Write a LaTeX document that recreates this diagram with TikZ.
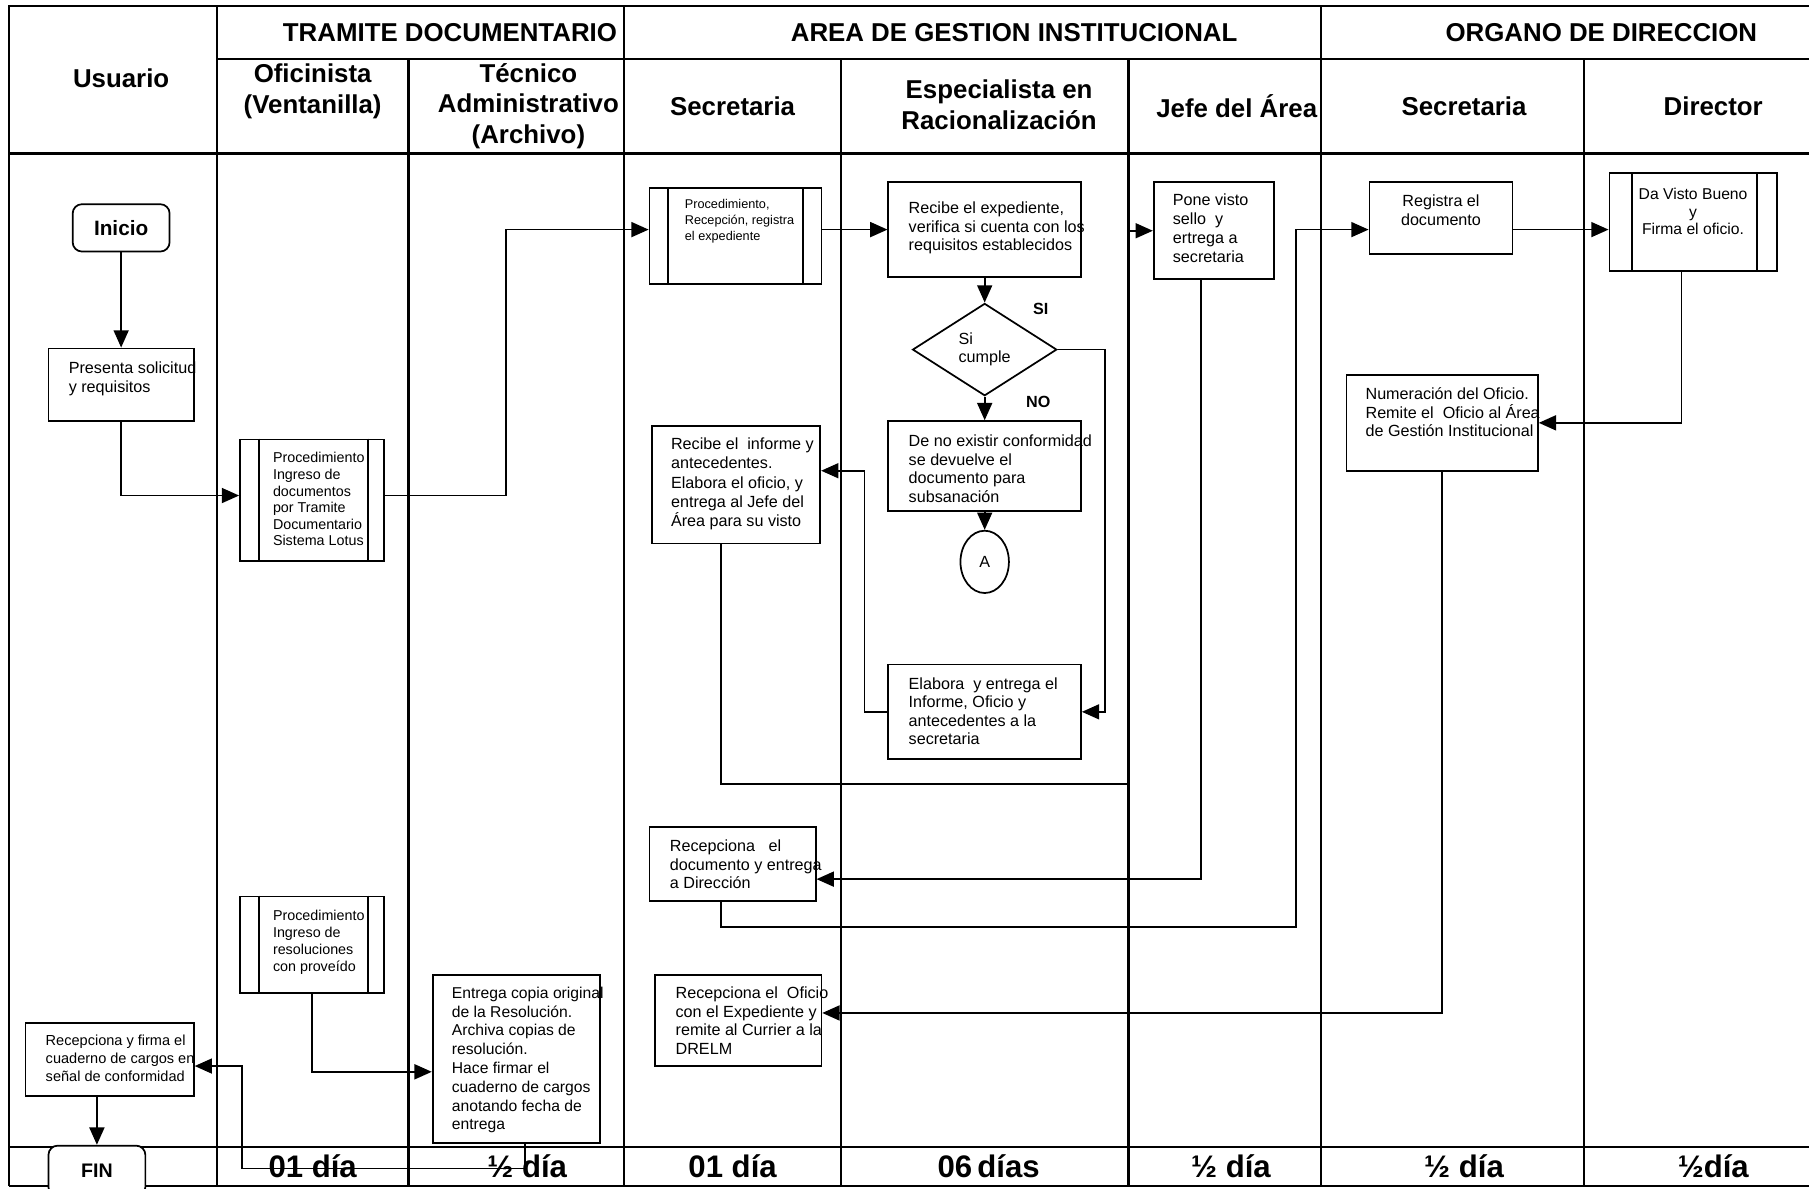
\documentclass[tikz,border=0pt]{standalone}
\usepackage{fontspec}
\setmainfont{Liberation Sans}
\usetikzlibrary{positioning, shapes.geometric, arrows.meta}

\tikzset{
  tbl/.style={line width=1.1pt},
  box/.style={draw, fill=white, line width=0.75pt, inner sep=0pt},
  txt/.style={align=left, inner sep=0pt, font=\fontsize{7}{8}\selectfont},
  txtc/.style={align=center, inner sep=0pt, font=\fontsize{7}{8}\selectfont},
  head/.style={align=center, inner sep=0pt, font=\fontsize{11.2}{13.3}\selectfont\bfseries},
  dia/.style={inner sep=0pt, font=\fontsize{13.5}{16}\selectfont\bfseries},
  term/.style={box, rounded corners=4pt, font=\fontsize{9}{11}\selectfont\bfseries},
  lbl/.style={inner sep=0pt, font=\fontsize{7}{8}\selectfont\bfseries},
  flow/.style={line width=0.75pt, -{Triangle[length=7.5pt,width=6.5pt]}},
}

\begin{document}
\begin{tikzpicture}[x=0.5pt, y=-0.5pt]
	\useasboundingbox[fill=white] (0,0) rectangle (1568,1030);

	% table
	\draw[tbl] (8,1028) -- (8,5) -- (1580,5);
	\draw[tbl] (188,51) -- (1580,51);
	\draw[tbl] (8,133) -- (1580,133);
	\draw[tbl] (8,994) -- (1580,994);
	\draw[tbl] (8,1028) -- (1580,1028);
	\foreach \x in {188,541,1145} \draw[tbl] (\x,5) -- (\x,1028);
	\foreach \x in {354,729,978,1373} \draw[tbl] (\x,51) -- (\x,1028);

	% headers
	\node[head] (hUsuario) at (105,68) {Usuario};
	\node[head] (hTramite) at (390,28) {TRAMITE DOCUMENTARIO};
	\node[head] (hArea) at (879,28) {AREA DE GESTION INSTITUCIONAL};
	\node[head] (hOrgano) at (1388,28) {ORGANO DE DIRECCION};
	\node[head] (hOficinista) at (271,79) {Oficinista\\(Ventanilla)};
	\node[head] (hTecnico) at (458,92) {Técnico\\Administrativo\\(Archivo)};
	\node[head] (hSecretaria) at (635,92) {Secretaria};
	\node[head] (hEspecialista) at (866,91) {Especialista en\\Racionalización};
	\node[head] (hJefe) at (1072,92) {Jefe del Área};
	\node[head] (hSecretariaDir) at (1269,92) {Secretaria};
	\node[head] (hDirector) at (1485,92) {Director};

	% tiempos
	\foreach \x/\t [count=\i] in {271/01 día, 457/½ día, 635/01 día, 857/06\,días, 1067/½ día, 1269/½ día, 1485/½día}
		\node[dia] (dia\i) at (\x,1011) {\t};

	% Usuario
	\node[term, minimum width=42pt, minimum height=20.5pt] (inicio) at (105,197.5) {Inicio};
	\node[box, minimum width=63pt, minimum height=31.5pt] (presenta) at (105,333.5) {};
	\node[txt, below right=6pt and 9pt of presenta.north west] (presenta-t) {Presenta solicitud\\y requisitos};
	\node[box, minimum width=73pt, minimum height=31.5pt] (recfirma) at (95,918.5) {};
	\node[txt, font=\fontsize{6.3}{8}\selectfont, below right=5pt and 9pt of recfirma.north west] (recfirma-t) {Recepciona y firma el\\cuaderno de cargos en\\señal de conformidad};
	\node[term, minimum width=42pt, minimum height=22pt, font=\fontsize{8.5}{10}\selectfont\bfseries] (fin) at (84,1015) {FIN};

	% Tramite documentario
	\node[box, minimum width=62.5pt, minimum height=52.5pt] (proc1) at (270.5,433.5) {};
	\node[txt, font=\fontsize{6.2}{7.2}\selectfont, below right=5.75pt and 14.5pt of proc1.north west] (proc1-t) {Procedimiento\\Ingreso de\\documentos\\por Tramite\\Documentario\\Sistema Lotus};
	\node[box, minimum width=62.5pt, minimum height=42pt] (proc3) at (270.5,819) {};
	\node[txt, font=\fontsize{6.2}{7.3}\selectfont, below right=6.25pt and 14.5pt of proc3.north west] (proc3-t) {Procedimiento\\Ingreso de\\resoluciones\\con proveído};
	\node[box, minimum width=72.5pt, minimum height=73pt] (entrega) at (447.5,918) {};
	\node[txt, font=\fontsize{6.8}{8.15}\selectfont, below right=5.35pt and 8.5pt of entrega.north west] (entrega-t) {Entrega copia original\\de la Resolución.\\Archiva copias de\\resolución.\\Hace firmar el\\cuaderno de cargos\\anotando fecha de\\entrega};

	% Area de gestion institucional
	\node[box, minimum width=74.5pt, minimum height=41.5pt] (proc2) at (637.5,204.5) {};
	\node[txt, font=\fontsize{5.5}{7}\selectfont, below right=5pt and 15.5pt of proc2.north west] (proc2-t) {Procedimiento,\\Recepción, registra\\el expediente};
	\node[box, minimum width=83.5pt, minimum height=41pt] (recibe) at (853.5,199) {};
	\node[txt, below right=8.75pt and 9pt of recibe.north west] (recibe-t) {Recibe el expediente,\\verifica si cuenta con los\\requisitos establecidos};
	\node[box, diamond, minimum width=62.5pt, minimum height=40pt, align=left, font=\fontsize{7}{8}\selectfont] (decide) at (853.5,303) {Si\\cumple};
	\node[lbl] (si) at (902,268) {SI};
	\node[lbl] (no) at (900,348) {NO};
	\node[box, minimum width=83.5pt, minimum height=39pt] (noconf) at (853.5,404) {};
	\node[txt, below right=6.25pt and 9pt of noconf.north west] (noconf-t) {De no existir conformidad\\se devuelve el\\documento para\\subsanación};
	\node[box, ellipse, minimum width=21pt, minimum height=27pt, font=\fontsize{7}{8}\selectfont] (conA) at (853.5,487) {A};
	\node[box, minimum width=83.5pt, minimum height=41pt] (elabora) at (853.5,617) {};
	\node[txt, below right=5.75pt and 9pt of elabora.north west] (elabora-t) {Elabora~ y entrega el\\Informe, Oficio y\\antecedentes a la\\secretaria};
	\node[box, minimum width=73pt, minimum height=51pt] (informe) at (638,420) {};
	\node[txt, font=\fontsize{7}{8.3}\selectfont, below right=5.5pt and 8.5pt of informe.north west] (informe-t) {Recibe el~ informe y\\antecedentes.\\Elabora el oficio, y\\entrega al Jefe del\\Área para su visto};
	\node[box, minimum width=52pt, minimum height=42pt] (pone) at (1052,200) {};
	\node[txt, font=\fontsize{7}{8.2}\selectfont, below right=5.25pt and 8.5pt of pone.north west] (pone-t) {Pone visto\\sello~ y\\ertrega a\\secretaria};
	\node[box, minimum width=72pt, minimum height=32pt] (recdoc) at (635,749) {};
	\node[txt, below right=5.75pt and 9pt of recdoc.north west] (recdoc-t) {Recepciona~~ el\\documento y entrega\\a Dirección};
	\node[box, minimum width=72pt, minimum height=39.5pt] (recof) at (640,884.5) {};
	\node[txt, font=\fontsize{7}{8.15}\selectfont, below right=5.25pt and 9pt of recof.north west] (recof-t) {Recepciona el~ Oficio\\con el Expediente y\\remite al Currier a la\\DRELM};

	% Organo de direccion
	\node[box, minimum width=62pt, minimum height=31pt] (registra) at (1249,189) {};
	\node[txtc, below=5.75pt of registra.north] (registra-t) {Registra el\\documento};
	\node[box, minimum width=72.5pt, minimum height=42.5pt] (vbueno) at (1467.5,192.5) {};
	\node[txtc, font=\fontsize{6.8}{7.5}\selectfont, below=6.85pt of vbueno.north] (vbueno-t) {Da Visto Bueno\\y\\Firma el oficio.};
	\node[box, minimum width=83pt, minimum height=41.5pt] (numer) at (1250,366.5) {};
	\node[txt, below right=5.75pt and 8.5pt of numer.north west] (numer-t) {Numeración del Oficio.\\Remite el~ Oficio al Área\\de Gestión Institucional};

	% predefined process bars
	\foreach \n/\a/\b in {proc1/8.5/7.5, proc2/8.5/8.5, proc3/8.5/7.5, vbueno/10/9} {
		\draw[line width=0.75pt] ([xshift=\a pt]\n.north west) -- ([xshift=\a pt]\n.south west);
		\draw[line width=0.75pt] ([xshift=-\b pt]\n.north east) -- ([xshift=-\b pt]\n.south east);
	}

	% flow
	\draw[flow] (inicio) -- (presenta);
	\draw[flow] (presenta.south) |- ([yshift=2pt]proc1.west);
	\draw[flow] ([yshift=2pt]proc1.east) -- ++(105,0) |- ([yshift=2.75pt]proc2.west);
	\draw[flow] ([yshift=2.75pt]proc2.east) -- (recibe.west);
	\draw[flow] (recibe) -- (decide);
	\draw[flow] (decide) -- (noconf);
	\draw[flow] (noconf) -- (conA);
	\draw[flow] (decide.east) -- ++(41,0) |- (elabora.east);
	\draw[flow] (elabora.west) -- ++(-20,0) |- ([yshift=6pt]informe.east);
	\draw[flow] ([xshift=-6.5pt]informe.south) -- ++(0,208) -| ([xshift=-11pt]pone.west) -- (pone.west);
	\draw[flow] ([xshift=-5.5pt]pone.south) |- ([yshift=-6.5pt]recdoc.east);
	\draw[flow] ([xshift=-5pt]recdoc.south) -- ++(0,22) -| ([xshift=-31.5pt,yshift=-5pt]registra.west) -- ([yshift=-5pt]registra.west);
	\draw[flow] ([yshift=-5pt]registra.east) -- ([yshift=-3.25pt]vbueno.west);
	\draw[flow] ([xshift=-5pt]vbueno.south) |- (numer.east);
	\draw[flow] (numer.south) |- ([yshift=3.25pt]recof.east);
	\draw[flow] (proc3.south) |- ([yshift=-5.5pt]entrega.west);
	\draw[flow] ([xshift=3.75pt]entrega.south) -- ++(0,21) -| ([xshift=20.5pt,yshift=-2.75pt]recfirma.east) -- ([yshift=-2.75pt]recfirma.east);
	\draw[flow] (recfirma.south -| fin.north) -- (fin.north);

\end{tikzpicture}
\end{document}
